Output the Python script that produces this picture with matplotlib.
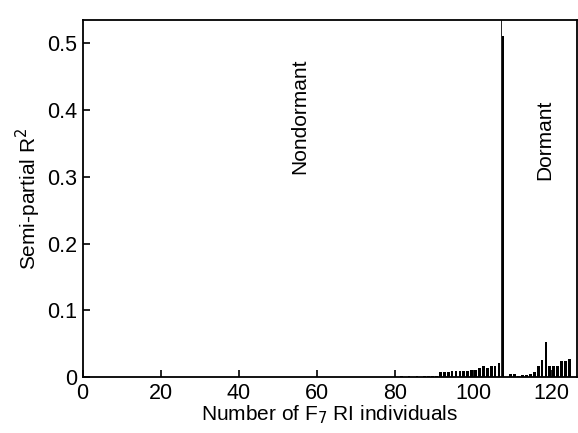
import numpy as np
import matplotlib
matplotlib.use("Agg")
import matplotlib.pyplot as plt

plt.rcParams['font.family'] = ['Liberation Sans', 'DejaVu Sans']

# individuals (bar index) and semi-partial R^2
idx_low = [82, 84, 86, 88, 89, 90, 91]
r2_low = [0.001, 0.0015, 0.001, 0.0015, 0.002, 0.002, 0.002]

idx_nondorm = list(range(92, 109))
r2_nondorm = [0.007, 0.007, 0.007, 0.009, 0.009, 0.009, 0.009, 0.009,
              0.011, 0.011, 0.013, 0.017, 0.013, 0.016, 0.016, 0.021, 0.511]

idx_dorm = list(range(110, 126))
r2_dorm = [0.004, 0.004, 0.001, 0.003, 0.003, 0.004, 0.007, 0.016,
           0.025, 0.053, 0.017, 0.017, 0.017, 0.024, 0.024, 0.027]

boundary = 107

fig = plt.figure(figsize=(5.78, 4.33), dpi=100)
ax = fig.add_axes([0.143, 0.1293, 0.855, 0.8247])

x = np.array(idx_low + idx_nondorm + idx_dorm) - 0.5
y = np.array(r2_low + r2_nondorm + r2_dorm)
ax.bar(x, y, width=0.7, color='black', linewidth=0)
ax.axvline(boundary, color='black', linewidth=0.6)

ax.set_xlim(0, 126.4)
ax.set_ylim(0, 0.535)
ax.set_xticks([0, 20, 40, 60, 80, 100, 120])
ax.set_yticks([0, 0.1, 0.2, 0.3, 0.4, 0.5])
ax.set_yticklabels(['0', '0.1', '0.2', '0.3', '0.4', '0.5'])
ax.tick_params(direction='in', length=5, width=1.2, labelsize=15.5, pad=4,
               top=False, right=False)
for s in ax.spines.values():
    s.set_linewidth(1.3)

ax.set_xlabel('Number of F$_7$ RI individuals', fontsize=15, labelpad=0)
ax.set_ylabel('Semi-partial R$^2$', fontsize=15, labelpad=3)

ax.text(55.6, 0.39, 'Nondormant', rotation=90, ha='center', va='center', fontsize=15)
ax.text(118.3, 0.355, 'Dormant', rotation=90, ha='center', va='center', fontsize=15)

fig.savefig('out.png', dpi=100)
